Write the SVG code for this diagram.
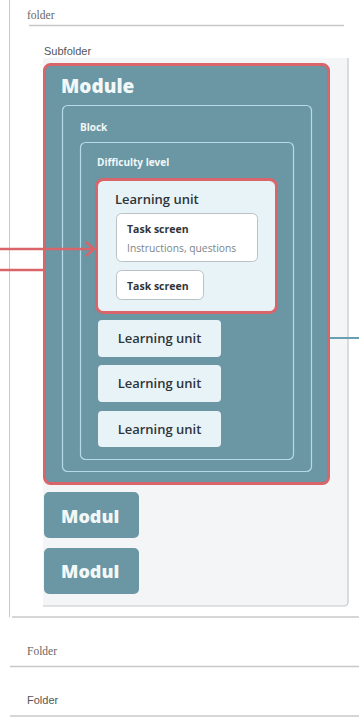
<svg xmlns="http://www.w3.org/2000/svg" width="359" height="719" viewBox="0 0 359 719">
<style>
.lbl{font-family:"Liberation Sans",Arial,sans-serif;fill:#555;font-size:11px}
.ser{font-family:"Liberation Serif","Times New Roman",serif;fill:#666;font-size:11.5px}
.hr{stroke:#c8c8c8;stroke-width:1.5}
.mod{fill:#6a97a3}
.red{stroke:#d9646a;stroke-width:3}
.inner{fill:none;stroke:#b5dbe8;stroke-width:1.2}
.wt{font-family:"Open Sans",sans-serif;font-weight:700;fill:#f2f7f8}
.big{font-weight:800}
.dk{font-family:"Open Sans",sans-serif;font-weight:600;fill:#2e3538}
.ts-t{font-weight:700}
.lu{fill:#e8f3f8}
.ts{fill:#fff;stroke:#b9c2c6;stroke-width:1}
</style>
<rect width="359" height="719" fill="#fff"/>
<line x1="9.5" y1="0" x2="9.5" y2="617" stroke="#c8c8c8" stroke-width="1"/>
<text class="ser" x="27" y="19">folder</text>
<line class="hr" x1="29" y1="25.5" x2="344" y2="25.5"/>
<text class="lbl" x="44" y="55">Subfolder</text>
<g id="subfolder-panel">
<path d="M43 58 H348 V602 a4 4 0 0 1 -4 4 H43 Z" fill="#f4f5f7"/>
<path d="M348 58 V602 a4 4 0 0 1 -4 4 H43" fill="none" stroke="#c5c7c9" stroke-width="1.2"/>
</g>
<line class="hr" x1="12" y1="617" x2="359" y2="617"/>
<g id="module">
<rect class="mod red" x="44.5" y="64.5" width="284" height="419" rx="6"/>
<text class="wt big" x="61" y="93" font-size="19">Module</text>
</g>
<g id="block">
<rect class="inner" x="62.5" y="105.5" width="249" height="366" rx="5"/>
<text class="wt" x="80" y="131" font-size="10">Block</text>
</g>
<g id="difficulty">
<rect class="inner" x="80.5" y="142.5" width="213" height="317" rx="5"/>
<text class="wt" x="97" y="166" font-size="10">Difficulty level</text>
</g>
<g id="learning-unit-main">
<rect class="lu red" x="96.5" y="179.5" width="180" height="133" rx="7"/>
<text class="dk" x="115" y="204" font-size="13">Learning unit</text>
</g>
<g id="task-screen-1">
<rect class="ts" x="116.5" y="213.5" width="141" height="48" rx="5"/>
<text class="dk ts-t" x="127" y="233" font-size="10.5">Task screen</text>
<text x="127" y="252" font-family="'Open Sans',sans-serif" font-size="10.3" fill="#7c8588">Instructions, questions</text>
</g>
<g id="task-screen-2">
<rect class="ts" x="116.5" y="270.5" width="87" height="29" rx="5"/>
<text class="dk ts-t" x="127" y="290" font-size="10.5">Task screen</text>
</g>
<g id="learning-unit-2">
<rect class="lu" x="98" y="320" width="123" height="37" rx="4"/>
<text class="dk" x="159.5" y="343" font-size="13" text-anchor="middle">Learning unit</text>
</g>
<g id="learning-unit-3">
<rect class="lu" x="98" y="365" width="123" height="37" rx="4"/>
<text class="dk" x="159.5" y="388" font-size="13" text-anchor="middle">Learning unit</text>
</g>
<g id="learning-unit-4">
<rect class="lu" x="98" y="411" width="123" height="36" rx="4"/>
<text class="dk" x="159.5" y="434" font-size="13" text-anchor="middle">Learning unit</text>
</g>
<g id="modul-1">
<rect class="mod" x="44" y="492" width="95" height="46" rx="5"/>
<text class="wt big" x="61" y="523" font-size="18">Modul</text>
</g>
<g id="modul-2">
<rect class="mod" x="44" y="548" width="95" height="46" rx="5"/>
<text class="wt big" x="61" y="578" font-size="18">Modul</text>
</g>
<g id="connectors">
<line x1="0" y1="249" x2="92" y2="249" stroke="#d9646a" stroke-width="2.5"/>
<path d="M86 242 L94 249 L86 256" fill="none" stroke="#d9646a" stroke-width="2.5"/>
<line x1="0" y1="270" x2="44" y2="270" stroke="#d9646a" stroke-width="2.5"/>
<line x1="330" y1="338" x2="359" y2="338" stroke="#6a9fb3" stroke-width="2"/>
</g>
<text class="ser" x="27" y="655">Folder</text>
<line class="hr" x1="10" y1="666.5" x2="359" y2="666.5"/>
<text class="lbl" x="27" y="704">Folder</text>
<line class="hr" x1="10" y1="716" x2="359" y2="716"/>
</svg>
